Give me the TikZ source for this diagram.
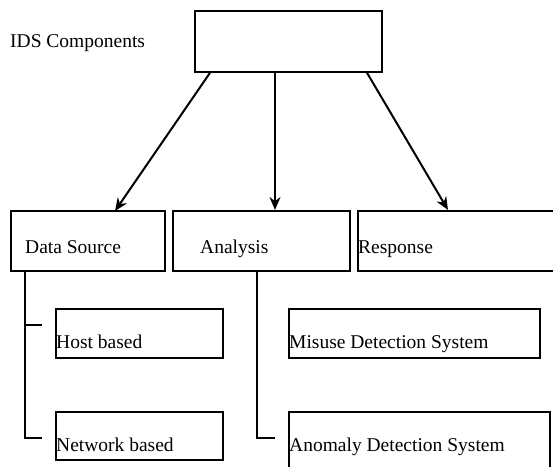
\documentclass[tikz,border=0pt]{standalone}
\usepackage{fontspec}
\setmainfont{Liberation Serif}
\usetikzlibrary{arrows.meta,calc}
\begin{document}
\begin{tikzpicture}[x=1pt,y=-1pt,
  box/.style={draw=black,line width=2pt,inner sep=0pt,anchor=north west},
  lbl/.style={inner sep=0pt,anchor=base west,font=\fontsize{19.5}{23}\selectfont},
  conn/.style={line width=2pt},
  arr/.style={line width=2pt,-{Stealth[length=13pt,width=11pt]}}]
\clip (0,0) rectangle (553,466);
\fill[white] (0,0) rectangle (553,466);
% boxes
\node[box,line width=1.8pt,minimum width=187pt,minimum height=61pt] (top) at (194,10) {};
\node[box,minimum width=154pt,minimum height=60pt] (ds) at (10,210) {};
\node[box,minimum width=177pt,minimum height=60pt] (an) at (172,210) {};
\node[box,minimum width=210pt,minimum height=60pt] (rs) at (357,210) {};
\node[box,minimum width=167pt,minimum height=49pt] (host) at (55,308) {};
\node[box,minimum width=167pt,minimum height=48pt] (net) at (55,411) {};
\node[box,minimum width=251pt,minimum height=49pt] (mis) at (288,308) {};
\node[box,minimum width=261pt,minimum height=70pt] (ano) at (288,411) {};
% texts
\node[lbl] (tIDS) at (10,47) {IDS Components};
\node[lbl] (tds) at (25,253) {Data Source};
\node[lbl] (tan) at (200,253) {Analysis};
\node[lbl] (trs) at (358,253) {Response};
\node[lbl] (thost) at (56,348) {Host based};
\node[lbl] (tnet) at (56,451) {Network based};
\node[lbl] (tmis) at (289,348) {Misuse Detection System};
\node[lbl] (tano) at (289,451) {Anomaly Detection System};
% arrows
\draw[arr] ($(top.south west)+(16,0)$) -- ($(ds.north west)+(105,1)$);
\draw[arr] ($(top.south west)+(81,0)$) -- ($(an.north west)+(103,0)$);
\draw[arr] ($(top.south west)+(173,0)$) -- ($(rs.north west)+(91,0)$);
% tree lines
\coordinate (hostTick) at (42,325);
\coordinate (netTick) at (42,438);
\coordinate (anoTick) at (275,438);
\draw[conn] ($(ds.south west)+(15,0)$) |- (netTick);
\draw[conn] (25,325) -- (hostTick);
\draw[conn] ($(an.south west)+(85,0)$) |- (anoTick);
\end{tikzpicture}
\end{document}
